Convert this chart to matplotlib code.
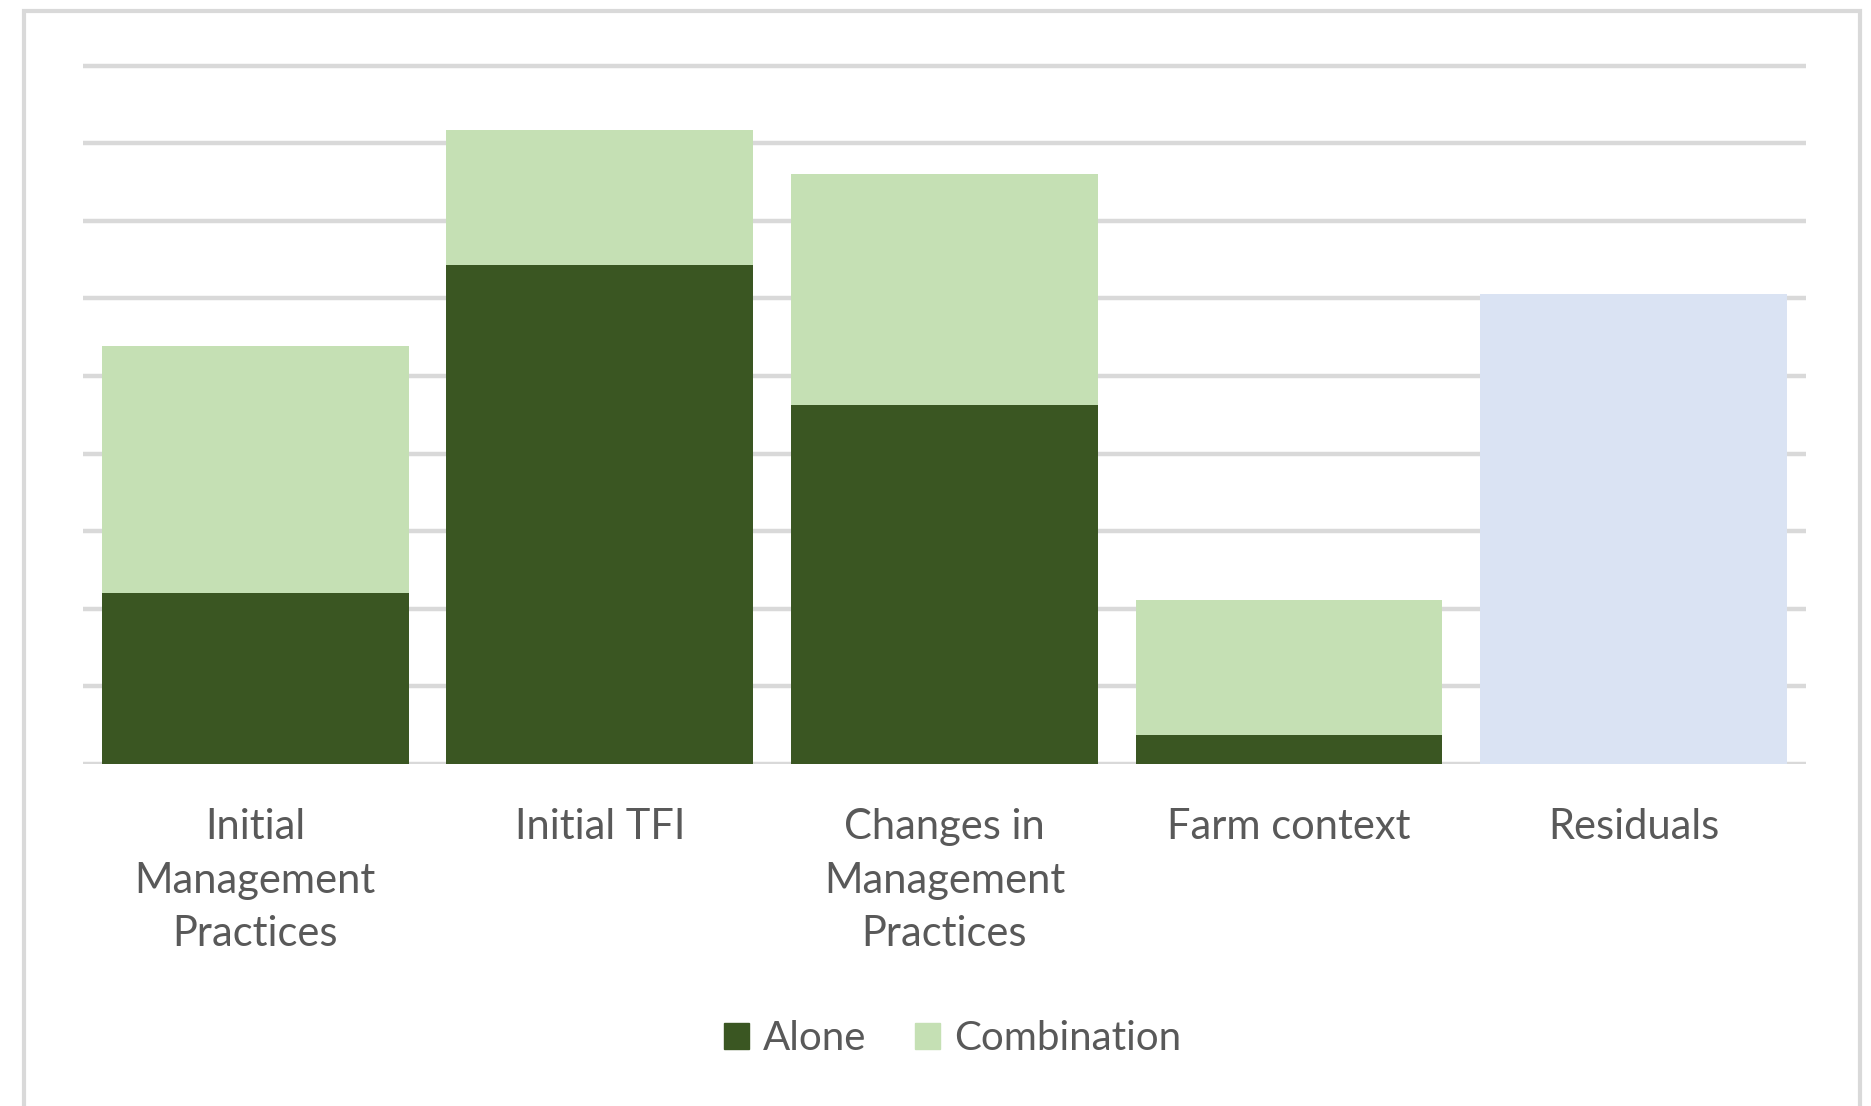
import matplotlib.pyplot as plt
from matplotlib.patches import Rectangle, Patch

categories = ["Initial\nManagement\nPractices", "Initial TFI",
              "Changes in\nManagement\nPractices", "Farm context", "Residuals"]
alone = [2.20, 6.43, 4.63, 0.37, 0.0]
combination = [3.18, 1.74, 2.97, 1.74, 0.0]
residuals = [0.0, 0.0, 0.0, 0.0, 6.05]

dark_green = "#3a5622"
light_green = "#c5e0b4"
pale_blue = "#dae3f3"
grid_grey = "#d9d9d9"
text_grey = "#595959"

plt.rcParams['font.family'] = ['Lato', 'DejaVu Sans']

fig = plt.figure(figsize=(18.71, 11.06), dpi=100)
ax = fig.add_axes([0.0443, 0.3092, 0.9209, 0.6526])

x = range(len(categories))
w = 0.89
ax.bar(x, alone, w, color=dark_green, zorder=3)
ax.bar(x, combination, w, bottom=alone, color=light_green, zorder=3)
ax.bar(x, residuals, w, color=pale_blue, zorder=3)

ax.set_xlim(-0.5, 4.5)
ax.set_ylim(0, 9.3)
ax.set_yticks(range(0, 10))
ax.yaxis.grid(True, color=grid_grey, linewidth=3.2, zorder=0)
ax.tick_params(axis='y', left=False, labelleft=False)
ax.set_xticks(list(x))
ax.set_xticklabels(categories, fontsize=30, color=text_grey, linespacing=1.5)
ax.tick_params(axis='x', length=0, pad=32)
for side in ["top", "right", "left", "bottom"]:
    ax.spines[side].set_visible(False)

handles = [Patch(color=dark_green, label="Alone"),
           Patch(color=light_green, label="Combination")]
leg = fig.legend(handles=handles, loc="center", bbox_to_anchor=(0.509, 0.061),
                 ncol=2, frameon=False, fontsize=29, handlelength=0.62,
                 handleheight=0.62, handletextpad=0.35, columnspacing=1.2)
for t in leg.get_texts():
    t.set_color(text_grey)

# outer chart border
fig.patches.append(Rectangle((0.0128, -0.05), 0.9813, 1.04, transform=fig.transFigure,
                             fill=False, edgecolor=grid_grey, linewidth=3))

fig.savefig("out.png", dpi=100, facecolor="white")
